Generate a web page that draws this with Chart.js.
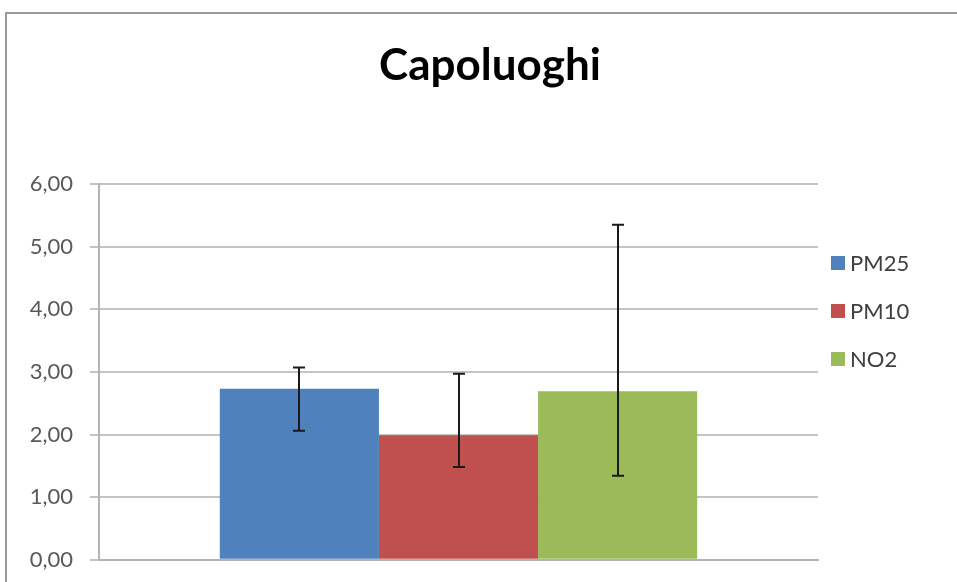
<!DOCTYPE html>
<html>
<head>
<meta charset="utf-8">
<script src="https://cdn.jsdelivr.net/npm/chart.js@4"></script>
<style>
    html, body { margin: 0; padding: 0; background: #fff; overflow: hidden; }
    #wrap { width: 957px; height: 590px; position: relative; }
</style>
</head>
<body>
<div id="wrap"><canvas id="chart"></canvas></div>
<script>
// Capoluoghi - means with error ranges

const categories = [''];
const seriesNames = ['PM25', 'PM10', 'NO2'];
const seriesColors = ['#4f81bd', '#c0504d', '#9bbb59'];
const seriesValues = [2.73, 1.99, 2.69];
const errorLow = [2.06, 1.48, 1.34];
const errorHigh = [3.07, 2.97, 5.35];
const yTicks = [0, 1, 2, 3, 4, 5, 6];
const chartTitle = 'Capoluoghi';

const FONT = 'Lato, "Open Sans", sans-serif';

// frame round the whole chart (top + left edges visible) and the title
const framePlugin = {
    id: 'frame',
    beforeDraw(chart) {
        const ctx = chart.ctx;
        ctx.save();
        ctx.strokeStyle = '#9a9a9a';
        ctx.lineWidth = 2;
        ctx.beginPath();
        ctx.moveTo(6, 600);
        ctx.lineTo(6, 13);
        ctx.lineTo(960, 13);
        ctx.stroke();

        ctx.fillStyle = '#000';
        ctx.font = 'bold 44px ' + FONT;
        ctx.textAlign = 'center';
        ctx.textBaseline = 'middle';
        ctx.fillText(chartTitle, 490, 66);
        ctx.restore();
    }
};

// error bars drawn on top of each bar
const errorBarPlugin = {
    id: 'errorBars',
    afterDatasetsDraw(chart) {
        const ctx = chart.ctx;
        const y = chart.scales.y;
        ctx.save();
        ctx.strokeStyle = '#1a1a1a';
        ctx.lineWidth = 2;
        chart.data.datasets.forEach((ds, i) => {
            const meta = chart.getDatasetMeta(i);
            meta.data.forEach((bar) => {
                const x = Math.round(bar.x);
                const top = y.getPixelForValue(errorHigh[i]);
                const bot = y.getPixelForValue(errorLow[i]);
                ctx.beginPath();
                ctx.moveTo(x, top);
                ctx.lineTo(x, bot);
                ctx.moveTo(x - 6, top);
                ctx.lineTo(x + 6, top);
                ctx.moveTo(x - 6, bot);
                ctx.lineTo(x + 6, bot);
                ctx.stroke();
            });
        });
        ctx.restore();
    }
};

// legend on the right, Excel style
const sideLegendPlugin = {
    id: 'sideLegend',
    afterDraw(chart) {
        const ctx = chart.ctx;
        ctx.save();
        ctx.font = '22px ' + FONT;
        ctx.textBaseline = 'middle';
        chart.data.datasets.forEach((ds, i) => {
            const cy = 263 + i * 48;
            ctx.fillStyle = ds.backgroundColor;
            ctx.fillRect(831, cy - 7, 14, 14);
            ctx.fillStyle = '#404040';
            ctx.fillText(ds.label, 850, cy + 1);
        });
        ctx.restore();
    }
};

new Chart(document.getElementById('chart'), {
    type: 'bar',
    data: {
        labels: categories,
        datasets: seriesNames.map((name, i) => ({
            label: name,
            data: [seriesValues[i]],
            backgroundColor: seriesColors[i],
            borderWidth: 0,
            categoryPercentage: 0.664,
            barPercentage: 1.0
        }))
    },
    options: {
        responsive: true,
        maintainAspectRatio: false,
        animation: false,
        layout: { padding: { left: 0, right: 139, top: 184, bottom: 9 } },
        plugins: {
            legend: { display: false },
            tooltip: { enabled: false },
            title: { display: false }
        },
        scales: {
            x: {
                grid: { display: false, drawTicks: false },
                border: { color: '#b3b3b3', width: 2 },
                ticks: { display: false }
            },
            y: {
                min: 0,
                max: 6,
                afterFit(scale) { scale.width = 99; },
                afterBuildTicks(scale) { scale.ticks = yTicks.map(v => ({ value: v })); },
                grid: { color: '#c4c4c4', lineWidth: 2, tickLength: 9, drawTicks: true },
                border: { color: '#b3b3b3', width: 2 },
                ticks: {
                    color: '#595959',
                    font: { family: FONT, size: 22 },
                    padding: 17,
                    callback: v => v.toFixed(2).replace('.', ',')
                }
            }
        }
    },
    plugins: [framePlugin, errorBarPlugin, sideLegendPlugin]
});
</script>
</body>
</html>
